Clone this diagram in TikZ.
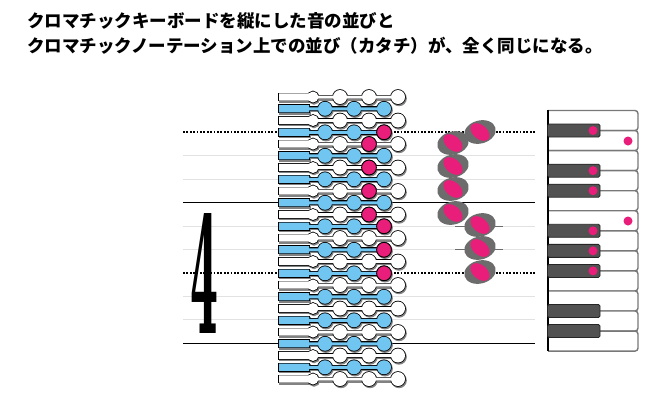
\documentclass[tikz,border=0pt]{standalone}
\usepackage{fontspec}
\usetikzlibrary{positioning}
\newfontfamily\jpfont{Noto Sans CJK JP}
\newfontfamily\numfont{DejaVu Serif}

\definecolor{notepink}{RGB}{233,30,122}
\definecolor{btnblue}{RGB}{112,198,240}
\definecolor{notegray}{RGB}{108,108,108}
\definecolor{keydark}{RGB}{82,82,82}
\definecolor{keyline}{RGB}{120,120,120}
\definecolor{stafflight}{RGB}{226,226,226}
\definecolor{btnshadow}{RGB}{130,130,130}

% one row of the button keyboard: y, fill, stem end, circles x/r
\newcommand{\btnrow}[4]{%
  \filldraw[btnshadow, line width=1.6pt, shift={(1,1.4)}]
    (279,#1-3.6) rectangle (309,#1+3.6) (305,#1-1.5) rectangle (#3,#1+1.5);
  \foreach \cxpos/\crad in {#4}
    \filldraw[btnshadow, line width=1.6pt, shift={(1,1.4)}] (\cxpos,#1) circle (\crad pt);
  \draw[line width=1.6pt]
    (279,#1-3.6) rectangle (309,#1+3.6) (305,#1-1.5) rectangle (#3,#1+1.5);
  \foreach \cxpos/\crad in {#4}
    \draw[line width=1.6pt] (\cxpos,#1) circle (\crad pt);
  \fill[#2] (279,#1-3.6) rectangle (309,#1+3.6) (305,#1-1.5) rectangle (#3,#1+1.5);
  \foreach \cxpos/\crad in {#4}
    \fill[#2] (\cxpos,#1) circle (\crad pt);
}

\begin{document}
\begin{tikzpicture}[
    x=1pt, y=-1pt,
    title/.style={anchor=base west, inner sep=0pt,
        font=\jpfont\bfseries\fontsize{17.5}{20}\selectfont},
    lightline/.style={stafflight, line width=0.9pt},
    staffline/.style={line width=1.2pt},
    dotline/.style={line width=1.8pt, dash pattern=on 1.8pt off 1.6pt},
    ledger/.style={notegray, line width=1pt},
    whitekey/.style={draw=keyline, fill=white, line width=1.4pt, rounded corners=3pt},
    blackkey/.style={fill=keydark, draw=black!85, line width=0.8pt, rounded corners=1.5pt},
    dot/.style={fill=notepink}
]
\useasboundingbox (0,0) rectangle (650,400);

% Title
\node[title] (title1) at (27,27) {クロマチックキーボードを縦にした音の並びと};
\node[title] (title2) at (27,52) {クロマチックノーテーション上での並び（カタチ）が、全く同じになる。};

% Staff
\foreach \ly in {155,179,226,249,296,319}
    \draw[lightline] (183,\ly) -- (535,\ly);
\foreach \ly in {202.3,343.3}
    \draw[staffline] (183,\ly) -- (535,\ly);
\foreach \ly in {131.7,272.7}
    \draw[dotline] (183,\ly) -- (535,\ly);

% Time signature
\node[anchor=north west, inner sep=0pt] (four) at (190,213)
    {\resizebox{28pt}{120pt}{\numfont\bfseries 4}};

% Button keyboard
\foreach \k in {0,...,24} {
    \pgfmathsetmacro\ry{97+11.75*\k}
    \ifodd\k\relax
        \btnrow{\ry}{btnblue}{384}{325/7,354/7,384/7}
    \else
        \btnrow{\ry}{white}{398}{313/5.5,340/7,369/7,398/7}
    \fi
}
\foreach \k/\px in {3/384,4/369,6/369,8/369,10/369,11/384,13/384,15/384} {
    \pgfmathsetmacro\ry{97+11.75*\k}
    \filldraw[fill=notepink, line width=0.8pt] (\px,\ry) circle (7.4pt);
}

% Notes
\draw[ledger] (455,226) -- (503,226);
\draw[ledger] (455,249) -- (503,249);
\foreach \nx/\ny in {480/132,453/143,453/166,453/189,453/213,480/225,480/248,480/272} {
    \fill[notegray, rotate around={15:(\nx,\ny)}] (\nx,\ny) ellipse (16pt and 11.5pt);
    \fill[notepink, rotate around={-40:(\nx,\ny)}] (\nx,\ny) ellipse (11pt and 7pt);
}

% Piano keyboard
\foreach \i in {0,...,11}
    \draw[whitekey] (548,{110.5+20.05*\i}) -| (638,{110.5+20.05*(\i+1)}) -- (548,{110.5+20.05*(\i+1)});
\draw[line width=1.2pt] (548,110) -- (548,351);
\foreach \i in {1,3,4,6,7,8,10,11}
    \draw[blackkey] (547.5,{110.5+20.05*\i-6.5}) rectangle (600,{110.5+20.05*\i+6.5});
\foreach \i in {1,3,4,6,7,8}
    \fill[dot] (593,{110.5+20.05*\i}) circle (4.5pt);
\fill[dot] (628,141) circle (4.5pt);
\fill[dot] (628,221) circle (4.5pt);

\end{tikzpicture}
\end{document}
